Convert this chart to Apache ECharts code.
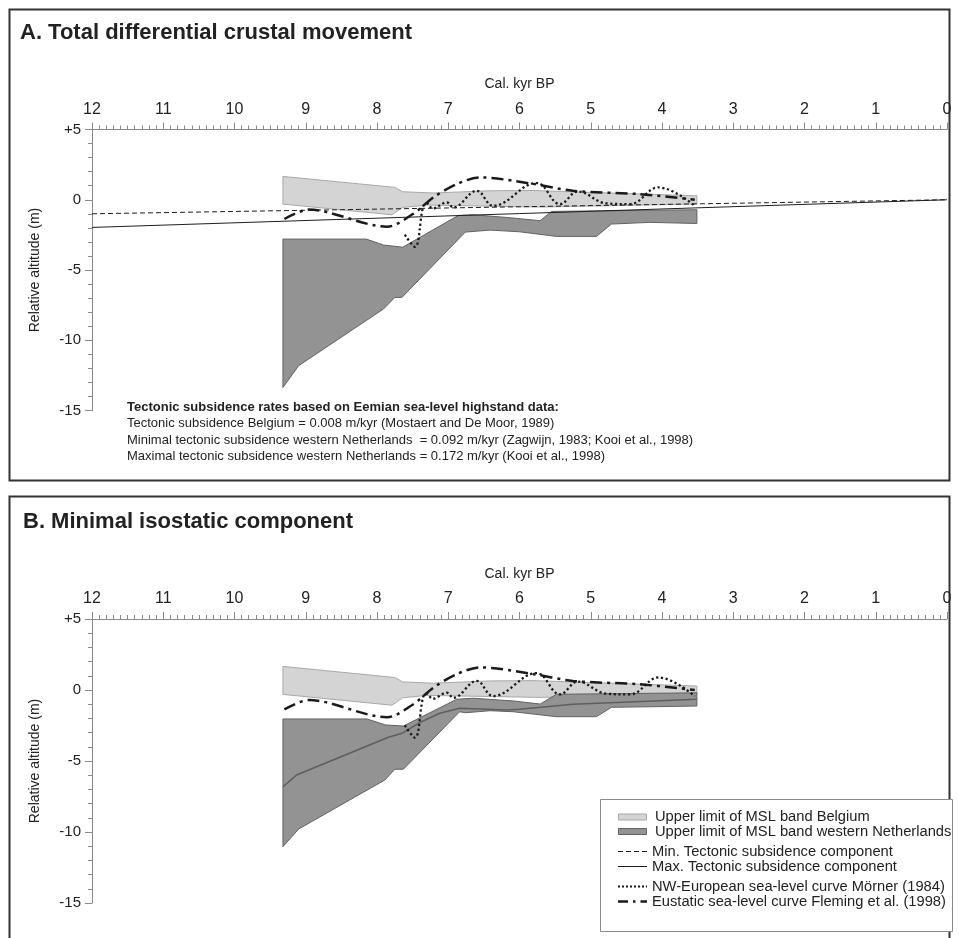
<!DOCTYPE html>
<html><head><meta charset="utf-8">
<script src="https://cdn.jsdelivr.net/npm/echarts@6/dist/echarts.min.js"></script>
<style>html,body{margin:0;padding:0;background:#fff}#c{width:959px;height:938px}</style>
</head><body><div id="c"></div><script>
// ---- tick labels / categories ----
const xTicks = [0,1,2,3,4,5,6,7,8,9,10,11,12];
const yTicks = [5,0,-5,-10,-15];

// ---- Belgium MSL band (upper and lower edges) [kyr BP, m] ----
const belgiumUpper = [[9.32,1.66],[7.89,0.95],[7.75,0.88],[7.64,0.57],[7.21,0.48],[6.41,0.64],[5.81,0.66],[3.51,0.28]];
const belgiumLower = [[9.32,-0.31],[7.79,-1.07],[7.64,-0.55],[7.30,-0.38],[5.71,-0.52],[3.51,-0.30]];

// ---- western Netherlands MSL band, panel A ----
const nlUpperA = [[9.32,-2.80],[8.15,-2.80],[7.91,-3.22],[7.64,-3.38],[6.86,-1.12],[6.65,-1.07],[6.18,-1.26],[5.71,-1.49],[5.55,-0.83],[3.51,-0.71]];
const nlLowerA = [[9.32,-13.36],[9.10,-11.81],[7.91,-7.78],[7.75,-6.95],[7.65,-6.95],[6.76,-2.30],[6.41,-2.16],[6.00,-2.28],[5.48,-2.61],[4.92,-2.61],[4.71,-1.73],[4.17,-1.61],[3.51,-1.69]];

// ---- western Netherlands MSL band, panel B ----
const nlUpperB = [[9.32,-2.04],[8.14,-2.04],[7.88,-2.46],[7.63,-2.54],[6.88,-0.65],[6.65,-0.58],[6.09,-0.77],[5.71,-0.99],[5.48,-0.30],[3.51,-0.20]];
const nlLowerB = [[9.32,-11.03],[9.10,-9.79],[7.89,-6.34],[7.75,-5.58],[7.63,-5.58],[6.84,-1.53],[6.76,-1.60],[6.41,-1.46],[6.09,-1.53],[5.48,-1.88],[4.92,-1.88],[4.71,-1.22],[3.51,-1.13]];
const nlMidB = [[9.32,-6.81],[9.13,-5.99],[7.84,-3.33],[7.65,-3.05],[7.40,-2.30],[7.12,-1.64],[6.84,-1.29],[6.18,-1.41],[6.00,-1.36],[5.25,-1.01],[3.51,-0.65]];

// ---- tectonic subsidence components ----
const minTectonic = [[12,-1.0],[0,0]];
const maxTectonic = [[12,-1.97],[0,0]];

// ---- sea-level curves ----
const morner = [[7.61,-2.49],[7.47,-3.35],[7.35,-0.45],[7.30,-0.26],[7.22,-0.62],[7.02,-0.19],[6.93,-0.55],[6.60,0.64],[6.37,-0.43],[5.76,1.19],[5.43,-0.31],[5.18,0.59],[4.78,-0.26],[4.45,-0.31],[4.05,0.88],[3.54,-0.43]];
const fleming = [[9.30,-1.37],[8.96,-0.70],[7.86,-1.92],[7.49,-1.00],[7.21,0.16],[6.88,1.12],[6.55,1.59],[5.85,1.16],[5.25,0.64],[4.31,0.40],[3.54,0.00]];

const FONT = '"Liberation Sans", Arial, sans-serif';
const C_LIGHT = '#d4d4d4', C_LIGHT_B = '#a8a8a8', C_DARK = '#939393', C_DARK_B = '#626262';

function polygon(xi, upper, lower, fill, stroke) {
  return {
    type: 'custom', xAxisIndex: xi, yAxisIndex: xi, silent: true, z: 2,
    data: [upper[0]],
    renderItem: function (params, api) {
      const pts = upper.concat(lower.slice().reverse()).map(p => api.coord(p));
      return {type: 'polygon', shape: {points: pts}, style: {fill: fill, stroke: stroke, lineWidth: 1}};
    }
  };
}
function line(xi, data, style, smooth, z) {
  return {type: 'line', xAxisIndex: xi, yAxisIndex: xi, data: data, symbol: 'none', silent: true,
    smooth: smooth || false, z: z || 3, lineStyle: style};
}
function xAxis(gi) {
  return {
    type: 'value', gridIndex: gi, position: 'top', inverse: true, min: 0, max: 12, interval: 1,
    name: 'Cal. kyr BP', nameLocation: 'middle', nameGap: 38,
    nameTextStyle: {fontFamily: FONT, fontSize: 14, color: '#222'},
    axisLine: {show: true, onZero: false, lineStyle: {color: '#888', width: 1}},
    axisTick: {show: true, length: 7, lineStyle: {color: '#888'}},
    minorTick: {show: true, splitNumber: 10, length: 4, lineStyle: {color: '#888'}},
    axisLabel: {fontFamily: FONT, fontSize: 16, color: '#222', margin: 12,
      formatter: v => xTicks.includes(v) ? String(v) : ''},
    splitLine: {show: false}, minorSplitLine: {show: false}
  };
}
function yAxis(gi) {
  return {
    type: 'value', gridIndex: gi, position: 'left', min: -15, max: 5, interval: 5,
    name: 'Relative altitude (m)', nameLocation: 'middle', nameGap: 50, nameRotate: 90,
    nameTextStyle: {fontFamily: FONT, fontSize: 14, color: '#222'},
    axisLine: {show: true, onZero: false, lineStyle: {color: '#888', width: 1}},
    axisTick: {show: true, length: 7, lineStyle: {color: '#888'}},
    minorTick: {show: true, splitNumber: 5, length: 4, lineStyle: {color: '#888'}},
    axisLabel: {fontFamily: FONT, fontSize: 15, color: '#222', margin: 11,
      formatter: v => yTicks.includes(v) ? (v > 0 ? '+' + v : String(v)) : ''},
    splitLine: {show: false}, minorSplitLine: {show: false}
  };
}

const dashStyle = {color: '#1e1e1e', width: 1, type: [5, 3]};
const solidStyle = {color: '#1e1e1e', width: 1, type: 'solid'};
const dotStyle = {color: '#1a1a1a', width: 2.3, type: [2.2, 2.6]};
const dashDotStyle = {color: '#1a1a1a', width: 2.5, type: [12, 5, 3, 5]};

function txt(x, y, s, font, align) {
  return {type: 'text', x: x, y: y, silent: true, z: 20,
    style: {text: s, font: font, fill: '#222', align: align || 'left', verticalAlign: 'middle'}};
}
function seg(x1, x2, y, style) {
  return {type: 'line', silent: true, z: 21, shape: {x1: x1, y1: y, x2: x2, y2: y},
    style: {stroke: style.color, lineWidth: style.width, lineDash: style.type === 'solid' ? null : style.type}};
}

const option = {
  animation: false,
  backgroundColor: '#fff',
  grid: [
    {left: 92, right: 12, top: 129.5, height: 281},
    {left: 92, right: 12, top: 619, height: 284}
  ],
  xAxis: [xAxis(0), xAxis(1)],
  yAxis: [yAxis(0), yAxis(1)],
  series: [
    polygon(0, belgiumUpper, belgiumLower, C_LIGHT, C_LIGHT_B),
    polygon(0, nlUpperA, nlLowerA, C_DARK, C_DARK_B),
    line(0, minTectonic, dashStyle),
    line(0, maxTectonic, solidStyle),
    line(0, morner, dotStyle, 0.4, 4),
    line(0, fleming, dashDotStyle, 0.3, 5),
    polygon(1, belgiumUpper, belgiumLower, C_LIGHT, C_LIGHT_B),
    polygon(1, nlUpperB, nlLowerB, C_DARK, C_DARK_B),
    line(1, nlMidB, {color: '#5e5e5e', width: 1.5, type: 'solid'}),
    line(1, morner, dotStyle, 0.4, 4),
    line(1, fleming, dashDotStyle, 0.3, 5)
  ],
  graphic: {elements: [
    {type: 'rect', silent: true, z: 0, shape: {x: 9.5, y: 9.5, width: 940, height: 471}, style: {fill: 'none', stroke: '#333', lineWidth: 2}},
    {type: 'rect', silent: true, z: 0, shape: {x: 9.5, y: 496.5, width: 940, height: 460}, style: {fill: 'none', stroke: '#333', lineWidth: 2}},
    txt(20, 33, 'A. Total differential crustal movement', 'bold 22px ' + FONT),
    txt(23, 522, 'B. Minimal isostatic component', 'bold 22px ' + FONT),
    txt(127, 407, 'Tectonic subsidence rates based on Eemian sea-level highstand data:', 'bold 13px ' + FONT),
    txt(127, 423.5, 'Tectonic subsidence Belgium = 0.008 m/kyr (Mostaert and De Moor, 1989)', '13px ' + FONT),
    txt(127, 440, 'Minimal tectonic subsidence western Netherlands  = 0.092 m/kyr (Zagwijn, 1983; Kooi et al., 1998)', '13px ' + FONT),
    txt(127, 456.5, 'Maximal tectonic subsidence western Netherlands = 0.172 m/kyr (Kooi et al., 1998)', '13px ' + FONT),
    {type: 'rect', silent: true, z: 19, shape: {x: 600.5, y: 799.5, width: 352, height: 132}, style: {fill: '#fff', stroke: '#8a8a8a', lineWidth: 1}},
    {type: 'rect', silent: true, z: 21, shape: {x: 618.5, y: 814, width: 28, height: 6}, style: {fill: C_LIGHT, stroke: C_LIGHT_B, lineWidth: 1}},
    {type: 'rect', silent: true, z: 21, shape: {x: 618.5, y: 828.5, width: 28, height: 6}, style: {fill: C_DARK, stroke: C_DARK_B, lineWidth: 1}},
    txt(655, 817, 'Upper limit of MSL band Belgium', '14.7px ' + FONT),
    txt(655, 831.5, 'Upper limit of MSL band western Netherlands', '14.7px ' + FONT),
    seg(618, 647, 851.5, dashStyle),
    txt(652, 851.5, 'Min. Tectonic subsidence component', '14.7px ' + FONT),
    seg(618, 647, 866.5, solidStyle),
    txt(652, 866.5, 'Max. Tectonic subsidence component', '14.7px ' + FONT),
    seg(618, 647, 886.5, {color: '#1a1a1a', width: 2, type: [2, 2]}),
    txt(652, 886.5, 'NW-European sea-level curve Mörner (1984)', '14.7px ' + FONT),
    seg(618, 647, 901.5, {color: '#1a1a1a', width: 2.5, type: [10, 5, 2.5, 5]}),
    txt(652, 901.5, 'Eustatic sea-level curve Fleming et al. (1998)', '14.7px ' + FONT)
  ]}
};
const chart = echarts.init(document.getElementById('c'), null, {renderer: 'canvas'});
chart.setOption(option);
</script></body></html>
